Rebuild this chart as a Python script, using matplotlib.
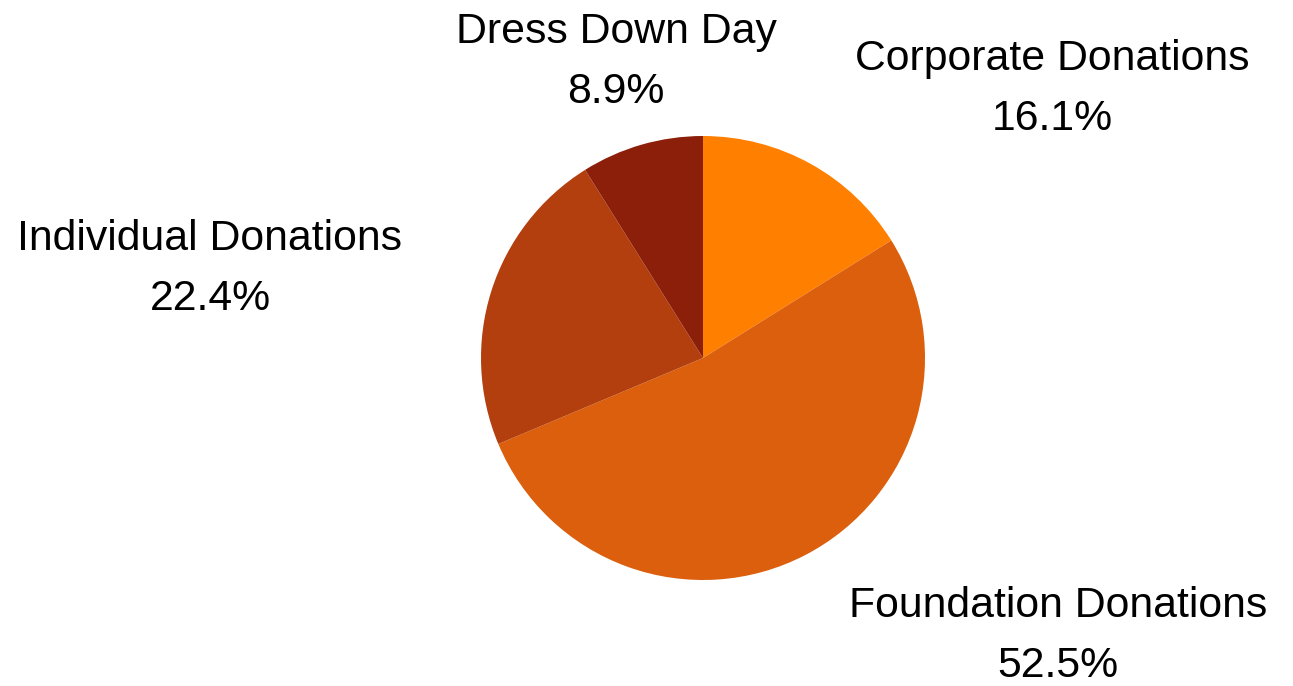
import matplotlib
matplotlib.use("Agg")
import matplotlib.pyplot as plt

categories = ["Corporate Donations", "Foundation Donations", "Individual Donations", "Dress Down Day"]
shares = [16.1, 52.5, 22.4, 8.9]
colors = ["#FF8000", "#DB5F0C", "#B33E0E", "#8B1F0A"]

W, H = 1293, 686
cx, cy, R = 703, 358, 222
# label block centres in pixel coordinates (layout)
label_px = [(1052, 89), (1058, 636), (210, 269), (616, 62)]

plt.rcParams['font.family'] = ['Liberation Sans', 'DejaVu Sans']
fig = plt.figure(figsize=(W / 100, H / 100), dpi=100)
ax = fig.add_axes([0, 0, 1, 1])
ax.pie(shares, colors=colors, startangle=90, counterclock=False,
       radius=1, center=(0, 0), wedgeprops=dict(linewidth=0))
ax.set_xlim(-cx / R, (W - cx) / R)
ax.set_ylim(-(H - cy) / R, cy / R)
ax.set_aspect('equal')
ax.axis('off')

for name, val, (px, py) in zip(categories, shares, label_px):
    x = (px - cx) / R
    y = (cy - py) / R
    ax.text(x, y, f"{name}\n{val:.1f}%", ha='center', va='center',
            fontsize=30.8, linespacing=1.64, color='black')

fig.savefig("out.png", dpi=100)
